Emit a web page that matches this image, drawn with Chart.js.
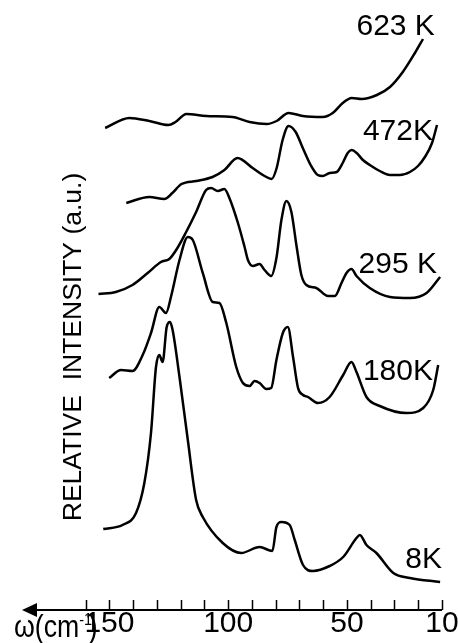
<!DOCTYPE html>
<html>
<head>
<meta charset="utf-8">
<style>
  html, body { margin: 0; padding: 0; background: #fff; }
  #wrap { width: 458px; height: 643px; }
</style>
<script src="https://cdn.jsdelivr.net/npm/chart.js@4.4.1/dist/chart.umd.min.js"></script>
</head>
<body>
<div id="wrap"><canvas id="c" width="458" height="643"></canvas></div>
<script>
// Raman spectra at five temperatures, stacked with vertical offsets (a.u.)
const temperatures = ['623 K', '472K', '295 K', '180K', '8K'];

const wn623  = [151.8,141.6,133.2,125.2,122.2,117.6,109.2,98.2,91.0,83.8,79.6,74.6,68.6,60.2,56.0,51.8,48.0,43.8,37.4,31.9,26.5,21.4,18.0];
const int623 = [48.2,49.2,48.9,48.5,48.8,49.6,49.4,49.3,48.8,48.6,48.9,49.7,49.4,49.3,49.7,50.7,51.2,51.1,51.5,52.3,53.8,55.7,57.1];

const wn472  = [142.9,133.2,126.9,123.5,119.7,113.4,106.6,101.6,96.1,89.7,84.7,81.7,79.6,77.1,74.6,71.6,68.6,65.3,62.3,60.2,57.3,54.3,51.8,49.7,48.0,45.9,43.3,40.4,36.2,31.9,27.7,23.5,20.1,17.2,14.2,12.1];
const int472 = [40.7,41.3,41.1,41.7,42.6,42.9,43.3,44.0,45.2,44.2,43.4,43.1,44.2,47.0,48.4,47.8,46.2,44.5,43.5,43.4,43.7,43.8,44.7,45.7,46.0,45.7,45.0,44.5,43.9,43.5,43.5,43.8,44.4,45.3,46.7,48.5];

const wn295  = [154.6,147.3,140.3,133.9,128.3,124.8,121.9,117.7,113.5,109.3,107.2,104.4,101.6,99.5,95.9,93.1,91.7,89.6,86.8,84.7,81.9,79.7,77.6,75.5,73.4,71.3,69.2,67.1,62.9,58.0,55.1,52.3,50.2,48.1,46.0,40.4,31.9,23.5,16.5,10.8];
const int295 = [31.6,31.8,32.5,33.7,34.8,35.1,36.0,37.8,39.8,42.0,42.2,41.9,42.1,41.2,38.7,36.3,35.0,34.4,34.6,34.0,33.4,35.2,39.0,40.9,39.8,36.5,33.5,32.5,32.2,31.4,31.4,32.7,33.7,34.1,33.4,32.2,31.3,31.2,31.7,33.3];

const wn180  = [150.1,145.1,140.3,136.0,132.5,129.0,126.2,124.1,120.5,117.0,114.9,110.7,106.5,103.7,100.8,96.6,93.8,91.0,88.9,86.8,84.0,81.9,79.7,77.0,74.9,72.7,70.6,68.5,66.4,62.2,57.3,51.6,48.1,46.0,41.8,36.2,24.9,17.9,13.7,11.6];
const int180 = [23.2,24.0,23.9,25.5,27.7,30.3,29.7,31.3,35.0,37.3,37.0,33.7,30.8,30.7,28.7,24.3,22.7,22.4,22.9,22.7,22.1,22.2,25.0,27.7,28.3,25.3,22.2,21.5,21.3,20.7,21.3,23.5,24.8,23.8,21.3,20.4,19.7,20.2,22.0,24.5];

const wn8  = [152.6,144.5,138.8,135.3,132.5,130.4,129.0,127.6,125.9,124.5,123.4,120.5,117.0,113.5,110.7,102.3,94.5,86.8,81.4,79.7,77.6,74.1,72.0,68.5,64.3,57.3,51.6,46.0,44.6,41.8,37.6,30.5,23.5,10.8];
const int8 = [8.1,8.5,9.7,12.7,17.7,24.3,25.5,24.8,28.3,28.8,28.0,23.3,17.0,11.0,9.3,6.7,5.7,6.3,5.9,8.3,8.8,8.5,7.0,4.5,3.9,4.4,5.3,7.2,7.5,6.5,5.7,3.7,3.2,2.8];

// wavenumber axis
const xTickLabels = [150, 100, 50, 10];
const xMinorStep = 10;

const spectra = [
  [wn623, int623], [wn472, int472], [wn295, int295], [wn180, int180], [wn8, int8]
];

const FONT = '"Liberation Sans", Arial, sans-serif';

// where each temperature tag sits (right edge / baseline, in axis units)
const tagAnchors = [
  { x: 13.0, y: 57.5 }, { x: 13.8, y: 47.0 }, { x: 12.1, y: 33.7 },
  { x: 13.8, y: 23.0 }, { x: 10.0, y: 4.2 }
];

const decorations = {
  id: 'decorations',
  afterDraw(chart) {
    const { ctx, chartArea, scales } = chart;
    const xs = scales.x, ys = scales.y;
    const yb = chartArea.bottom;
    ctx.save();
    ctx.strokeStyle = '#000';
    ctx.fillStyle = '#000';

    // axis line with arrow pointing to higher wavenumber
    const tipX = chartArea.left;
    ctx.lineWidth = 2;
    ctx.beginPath();
    ctx.moveTo(tipX + 10, yb);
    ctx.lineTo(xs.getPixelForValue(10), yb);
    ctx.stroke();
    ctx.beginPath();
    ctx.moveTo(tipX, yb);
    ctx.lineTo(tipX + 15, yb - 7);
    ctx.lineTo(tipX + 15, yb + 7);
    ctx.closePath();
    ctx.fill();

    // inward tick marks every 10 cm-1
    ctx.lineWidth = 1.5;
    for (let v = 10; v <= 160; v += xMinorStep) {
      const px = Math.round(xs.getPixelForValue(v)) + 0.5;
      ctx.beginPath();
      ctx.moveTo(px, yb);
      ctx.lineTo(px, yb - 10);
      ctx.stroke();
    }

    // axis unit: ω(cm⁻¹), set slightly condensed
    ctx.save();
    ctx.textBaseline = 'alphabetic';
    ctx.textAlign = 'left';
    ctx.translate(14, 637);
    ctx.scale(0.86, 1);
    ctx.font = '31px ' + FONT;
    let tx = 0;
    ctx.fillText('ω(cm', tx, 0);
    tx += ctx.measureText('ω(cm').width;
    ctx.font = '17px ' + FONT;
    ctx.fillText('-1', tx, -12);
    tx += ctx.measureText('-1').width;
    ctx.font = '31px ' + FONT;
    ctx.fillText(')', tx - 4, 0);
    ctx.restore();

    // temperature tags
    ctx.font = '30px ' + FONT;
    ctx.textAlign = 'right';
    ctx.textBaseline = 'alphabetic';
    temperatures.forEach((t, i) => {
      const a = tagAnchors[i];
      ctx.fillText(t, xs.getPixelForValue(a.x), ys.getPixelForValue(a.y));
    });

    // vertical title
    ctx.save();
    ctx.translate(74, 347);
    ctx.rotate(-Math.PI / 2);
    ctx.textAlign = 'center';
    ctx.textBaseline = 'middle';
    ctx.font = '26.5px ' + FONT;
    ctx.fillText('RELATIVE  INTENSITY (a.u.)', 0, 0);
    ctx.restore();

    ctx.restore();
  }
};

new Chart(document.getElementById('c'), {
  type: 'line',
  data: {
    datasets: spectra.map(([wn, inten], i) => ({
      label: temperatures[i],
      data: wn.map((w, k) => ({ x: w, y: inten[k] })),
      borderColor: '#000',
      borderWidth: 2.5,
      pointRadius: 0,
      fill: false,
      cubicInterpolationMode: 'monotone'
    }))
  },
  options: {
    responsive: false,
    animation: false,
    devicePixelRatio: 1,
    layout: { padding: { left: 22, right: 16, top: 0, bottom: 0 } },
    plugins: { legend: { display: false }, tooltip: { enabled: false } },
    scales: {
      x: {
        type: 'linear',
        reverse: true,
        min: 10,
        max: 186.8,
        grid: { display: false, drawTicks: false },
        border: { display: false },
        afterFit(scale) {
          scale.paddingLeft = 0;
          scale.paddingRight = 0;
          scale.height = 33;
        },
        ticks: {
          stepSize: 10,
          autoSkip: false,
          maxRotation: 0,
          padding: -1,
          color: '#000',
          font: { family: FONT, size: 30, lineHeight: 1 },
          callback: (v) => xTickLabels.includes(v) ? String(v) : ''
        }
      },
      y: {
        display: false,
        min: 0,
        max: 61
      }
    }
  },
  plugins: [decorations]
});
</script>
</body>
</html>
